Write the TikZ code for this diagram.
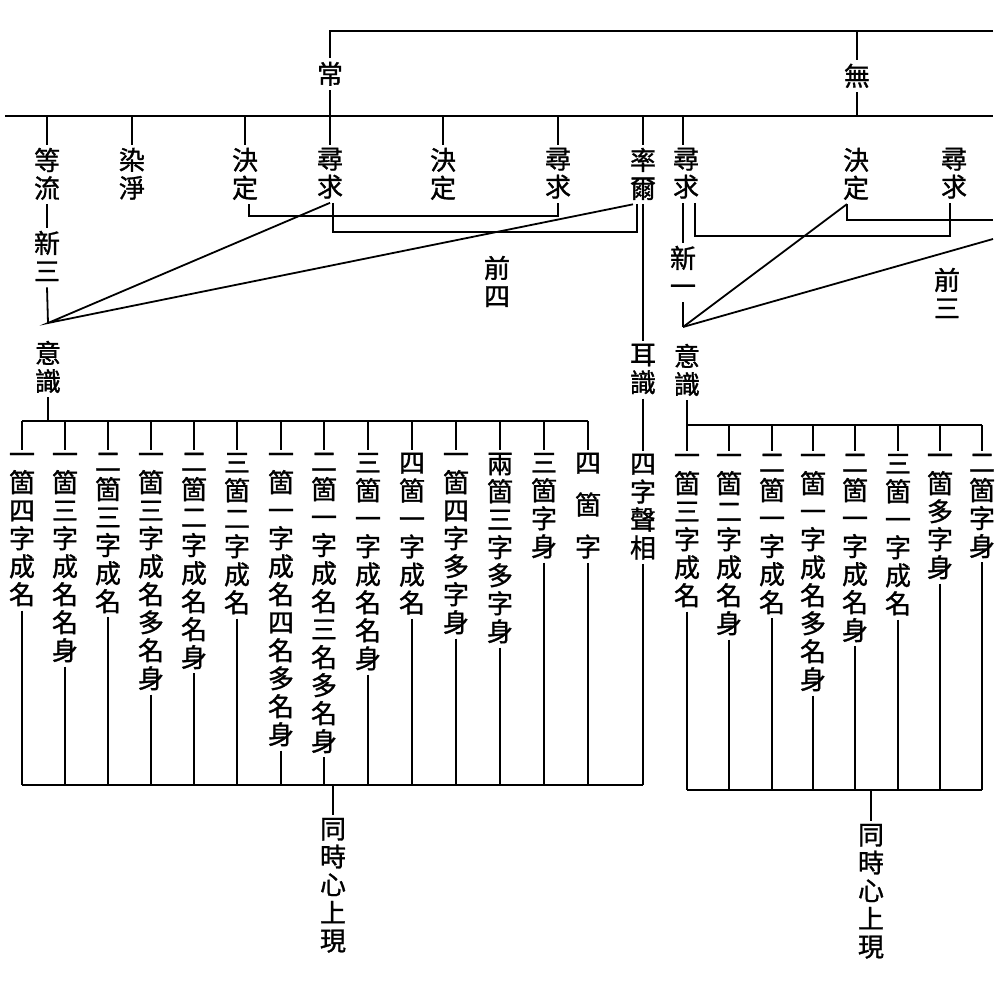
\documentclass[tikz,border=0pt]{standalone}
\usepackage{fontspec}
\newfontfamily\cjk[FakeBold=1.2]{Noto Sans CJK TC}
\usetikzlibrary{calc}

\begin{document}
\begin{tikzpicture}[
  x=1pt, y=-1pt, line width=1.8pt,
  vlabel/.style={font=\cjk\fontsize{26}{28}\selectfont, align=center,
                 inner sep=2pt, anchor=north,
                 execute at begin node={\rule{0pt}{23pt}},
                 execute at end node={\rule[-3.5pt]{0pt}{3.5pt}}},
  hlabel/.style={vlabel, anchor=center},
]
\path[fill=white] (0,0) rectangle (1003,981);

\coordinate (topL) at (330,31);
\coordinate (topR) at (993,31);
\coordinate (mainL) at (5,116);
\coordinate (mainR) at (993,116);
\coordinate (apexL) at (48,323);
\coordinate (apexR) at (683,327);
\coordinate (edgeA) at (993,220);
\coordinate (edgeB) at (993,239);
\coordinate (barL) at (48,421);
\coordinate (botL) at (333,785);
\coordinate (barR) at (687,425);
\coordinate (botR) at (871,790);

\node[hlabel] (chang) at (330,74) {常};
\node[hlabel] (wu) at (857,76) {無};

\node[vlabel] (dengliu) at (47,145) {等\\流};
\node[vlabel] (ranjing) at (132,145) {染\\淨};
\node[vlabel] (jueding1) at (245,145) {決\\定};
\node[vlabel] (xunqiu1) at (330,145) {尋\\求};
\node[vlabel] (jueding2) at (443,145) {決\\定};
\node[vlabel] (xunqiu2) at (558,145) {尋\\求};
\node[vlabel] (shuaier) at (643,145) {率\\爾};
\node[vlabel] (xunqiu3) at (686,145) {尋\\求};
\node[vlabel] (jueding3) at (856,145) {決\\定};
\node[vlabel] (xunqiu4) at (954,145) {尋\\求};

\node[vlabel] (xinsan) at (47,228) {新\\三};
\node[vlabel] (xinyi) at (683,243) {新\\一};
\node[vlabel] (qiansi) at (497,253) {前\\四};
\node[vlabel] (qiansan) at (947,265) {前\\三};

\node[vlabel] (yizhiL) at (48,338) {意\\識};
\node[vlabel] (erzhi) at (643,341) {耳\\識};
\node[vlabel] (yizhiR) at (687,341) {意\\識};
\node[vlabel] (shengxiang) at (643,451) {四\\字\\聲\\相};

\node[vlabel] (l1) at (22,450) {一\\箇\\四\\字\\成\\名};
\node[vlabel] (l2) at (65,450) {一\\箇\\三\\字\\成\\名\\名\\身};
\node[vlabel] (l3) at (108,450) {二\\箇\\三\\字\\成\\名};
\node[vlabel] (l4) at (151,450) {一\\箇\\三\\字\\成\\名\\多\\名\\身};
\node[vlabel] (l5) at (194,450) {二\\箇\\二\\字\\成\\名\\名\\身};
\node[vlabel] (l6) at (237,450) {三\\箇\\二\\字\\成\\名};
\node[vlabel] (l7) at (281,450) {一\\箇\\一\\字\\成\\名\\四\\名\\多\\名\\身};
\node[vlabel] (l8) at (324,450) {二\\箇\\一\\字\\成\\名\\三\\名\\多\\名\\身};
\node[vlabel] (l9) at (368,450) {三\\箇\\一\\字\\成\\名\\名\\身};
\node[vlabel] (l10) at (412,450) {四\\箇\\一\\字\\成\\名};
\node[vlabel] (l11) at (456,450) {一\\箇\\四\\字\\多\\字\\身};
\node[vlabel] (l12) at (500,450) {兩\\箇\\三\\字\\多\\字\\身};
\node[vlabel] (l13) at (544,450) {三\\箇\\字\\身};
\node[vlabel] (l14) at (588,450) {四\\[14pt]箇\\[14pt]字};

\node[vlabel] (r1) at (687,451) {一\\箇\\三\\字\\成\\名};
\node[vlabel] (r2) at (729,451) {一\\箇\\二\\字\\成\\名\\身};
\node[vlabel] (r3) at (772,451) {二\\箇\\一\\字\\成\\名};
\node[vlabel] (r4) at (813,451) {一\\箇\\一\\字\\成\\名\\多\\名\\身};
\node[vlabel] (r5) at (855,451) {二\\箇\\一\\字\\成\\名\\身};
\node[vlabel] (r6) at (898,451) {三\\箇\\一\\字\\成\\名};
\node[vlabel] (r7) at (940,451) {一\\箇\\多\\字\\身};
\node[vlabel] (r8) at (982,451) {二\\箇\\字\\身};

\node[vlabel] (tongshiL) at (333,815) {同\\時\\心\\上\\現};
\node[vlabel] (tongshiR) at (871,821) {同\\時\\心\\上\\現};

\draw (topR) -- (topL) -- (chang.north);
\draw (chang.south) -- (chang |- mainL);
\draw (wu.north) -- (wu |- topL);
\draw (wu.south) -- (wu |- mainL);
\draw (mainL) -- (mainR);

\draw (dengliu.north) -- (dengliu |- mainL);
\draw (ranjing.north) -- (ranjing |- mainL);
\draw (jueding1.north) -- (jueding1 |- mainL);
\draw (xunqiu1.north) -- (xunqiu1 |- mainL);
\draw (jueding2.north) -- (jueding2 |- mainL);
\draw (xunqiu2.north) -- (xunqiu2 |- mainL);
\draw (shuaier.north) -- (shuaier |- mainL);
\draw ([xshift=-3pt]xunqiu3.north) -- ([xshift=-3pt]xunqiu3 |- mainL);

\draw (dengliu.south) -- (xinsan.north);
\draw (xinsan.south) -- (apexL);
\draw (xunqiu1.south) -- (apexL) -- ([xshift=-10pt]shuaier.south);
\draw ([xshift=4pt]jueding1.south) -- ++(0,12) -| (xunqiu2.south);
\draw ([xshift=3pt]xunqiu1.south) -- ++(0,29) -| ([xshift=-6pt]shuaier.south);
\draw (shuaier.south) -- (erzhi.north);
\draw (erzhi.south) -- (shengxiang.north);
\draw (shengxiang.south) -- (shengxiang |- botL);

\draw (xinyi.north) -- (xinyi |- xunqiu3.south);
\draw (xinyi.south) -- (apexR);
\draw ([xshift=9pt]xunqiu3.south) -- ++(0,33) -| ([xshift=-4pt]xunqiu4.south);
\draw (apexR) -- ([xshift=-9pt]jueding3.south);
\draw ([xshift=-9pt]jueding3.south) |- (edgeA);
\draw (apexR) -- (edgeB);

\draw (yizhiL.south) -- (barL);
\draw (l1 |- barL) -- (l14 |- barL);
\draw (l1 |- barL) -- (l1.north) (l1.south) -- (l1 |- botL);
\draw (l2 |- barL) -- (l2.north) (l2.south) -- (l2 |- botL);
\draw (l3 |- barL) -- (l3.north) (l3.south) -- (l3 |- botL);
\draw (l4 |- barL) -- (l4.north) (l4.south) -- (l4 |- botL);
\draw (l5 |- barL) -- (l5.north) (l5.south) -- (l5 |- botL);
\draw (l6 |- barL) -- (l6.north) (l6.south) -- (l6 |- botL);
\draw (l7 |- barL) -- (l7.north) (l7.south) -- (l7 |- botL);
\draw (l8 |- barL) -- (l8.north) (l8.south) -- (l8 |- botL);
\draw (l9 |- barL) -- (l9.north) (l9.south) -- (l9 |- botL);
\draw (l10 |- barL) -- (l10.north) (l10.south) -- (l10 |- botL);
\draw (l11 |- barL) -- (l11.north) (l11.south) -- (l11 |- botL);
\draw (l12 |- barL) -- (l12.north) (l12.south) -- (l12 |- botL);
\draw (l13 |- barL) -- (l13.north) (l13.south) -- (l13 |- botL);
\draw (l14 |- barL) -- (l14.north) (l14.south) -- (l14 |- botL);
\draw (l1 |- botL) -- (shengxiang |- botL);
\draw (botL) -- (tongshiL.north);

\draw (yizhiR.south) -- (barR);
\draw (r1 |- barR) -- (r8 |- barR);
\draw (r1 |- barR) -- (r1.north) (r1.south) -- (r1 |- botR);
\draw (r2 |- barR) -- (r2.north) (r2.south) -- (r2 |- botR);
\draw (r3 |- barR) -- (r3.north) (r3.south) -- (r3 |- botR);
\draw (r4 |- barR) -- (r4.north) (r4.south) -- (r4 |- botR);
\draw (r5 |- barR) -- (r5.north) (r5.south) -- (r5 |- botR);
\draw (r6 |- barR) -- (r6.north) (r6.south) -- (r6 |- botR);
\draw (r7 |- barR) -- (r7.north) (r7.south) -- (r7 |- botR);
\draw (r8 |- barR) -- (r8.north) (r8.south) -- (r8 |- botR);
\draw (r1 |- botR) -- (r8 |- botR);
\draw (botR) -- (tongshiR.north);
\end{tikzpicture}
\end{document}
